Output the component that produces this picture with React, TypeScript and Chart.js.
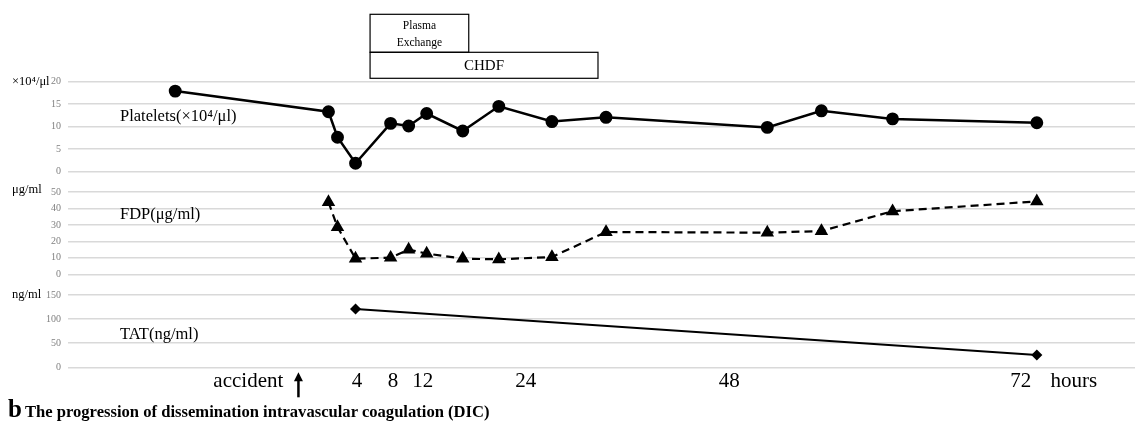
import React, { useEffect, useRef } from 'react';
import { Chart, registerables } from 'chart.js';
Chart.register(...registerables);

const SERIF = "'Liberation Serif', 'DejaVu Serif', serif";

// Hours after the accident
const PLT_HOURS = [-14, 1.3, 2.2, 4, 7.5, 9.3, 11.1, 14.7, 18.3, 23.6, 29, 45.1, 50.5, 57.6, 72];
const PLT_VALUES = [17.9, 13.3, 7.6, 1.8, 10.7, 10.1, 12.9, 9.0, 14.5, 11.1, 12.05, 9.8, 13.5, 11.7, 10.85];

const FDP_HOURS = [1.3, 2.2, 4, 7.5, 9.3, 11.1, 14.7, 18.3, 23.6, 29, 45.1, 50.5, 57.6, 72];
const FDP_VALUES = [43.9, 28.7, 9.5, 10.1, 15.0, 12.6, 9.5, 9.1, 10.5, 25.7, 25.3, 26.3, 38.3, 44.3];

const TAT_HOURS = [4, 72];
const TAT_VALUES = [121, 25.5];

const X_TICK_HOURS = [-6.7, 4.15, 7.75, 10.7, 21, 41.3, 70.4, 75.7];
const X_TICK_LABELS = ['accident', '4', '8', '12', '24', '48', '72', 'hours'];
const ACCIDENT_ARROW_HOUR = -1.7;

const PLASMA_RANGE = [5.45, 15.3];
const CHDF_RANGE = [5.45, 28.2];

const X_MIN = -24.7;
const X_MAX = 81.8;

const toXY = (xs: number[], ys: number[]) => xs.map((x, i) => ({ x, y: ys[i] }));

function makeX(show: boolean) {
  return {
    type: 'linear',
    min: X_MIN,
    max: X_MAX,
    display: show,
    grid: { display: false, drawTicks: false },
    border: { display: false },
    afterBuildTicks: (s: any) => {
      s.ticks = X_TICK_HOURS.map((v) => ({ value: v }));
    },
    afterFit: (s: any) => {
      s.height = show ? 61.7 : 0;
    },
    ticks: {
      autoSkip: false,
      maxRotation: 0,
      minRotation: 0,
      padding: 2,
      color: '#000',
      font: { family: SERIF, size: 21 },
      callback: (_v: any, i: number) => X_TICK_LABELS[i],
    },
  };
}

function makeY(min: number, max: number, step: number) {
  return {
    type: 'linear',
    position: 'left',
    min,
    max,
    ticks: {
      stepSize: step,
      autoSkip: false,
      padding: 7,
      color: '#808080',
      font: { family: SERIF, size: 10 },
    },
    grid: { color: '#d9d9d9', lineWidth: 1.5, drawTicks: false },
    border: { display: false },
    afterFit: (s: any) => {
      s.width = 68;
    },
  };
}

function textPlugin(id: string, draw: (chart: any, ctx: CanvasRenderingContext2D) => void) {
  return {
    id,
    afterDraw(chart: any) {
      const ctx = chart.ctx;
      ctx.save();
      draw(chart, ctx);
      ctx.restore();
    },
  };
}

function baseOptions(padding: any, yScale: any, xShow: boolean) {
  return {
    responsive: true,
    maintainAspectRatio: false,
    animation: false,
    events: [],
    layout: { padding, autoPadding: false },
    plugins: { legend: { display: false }, tooltip: { enabled: false } },
    scales: { x: makeX(xShow), y: yScale },
  };
}

// Panel placement (page pixels); the y-axis labels need 13px above/below the plot area
const EDGE = 13;

export default function App() {
  const r1 = useRef<HTMLCanvasElement>(null);
  const r2 = useRef<HTMLCanvasElement>(null);
  const r3 = useRef<HTMLCanvasElement>(null);

  useEffect(() => {
    const pltChart = new Chart(r1.current as any, {
      type: 'line',
      data: {
        datasets: [
          {
            data: toXY(PLT_HOURS, PLT_VALUES),
            borderColor: '#000',
            backgroundColor: '#000',
            borderWidth: 2.5,
            pointStyle: 'circle',
            pointRadius: 5.2,
            tension: 0,
            clip: false,
          },
        ],
      },
      options: baseOptions({ top: 81.7, bottom: EDGE, left: 0, right: 0 }, makeY(0, 20, 5), false) as any,
      plugins: [
        textPlugin('pltText', (chart, ctx) => {
          const a = chart.chartArea;
          const x = chart.scales.x;
          ctx.fillStyle = '#000';
          ctx.textBaseline = 'middle';
          ctx.textAlign = 'left';
          ctx.font = `12.5px ${SERIF}`;
          ctx.fillText('×10⁴/μl', 12, a.top);
          ctx.font = `16.5px ${SERIF}`;
          ctx.fillText('Platelets(×10⁴/μl)', 120, 117);
          // treatment boxes
          const px0 = x.getPixelForValue(PLASMA_RANGE[0]);
          const px1 = x.getPixelForValue(PLASMA_RANGE[1]);
          const cx0 = x.getPixelForValue(CHDF_RANGE[0]);
          const cx1 = x.getPixelForValue(CHDF_RANGE[1]);
          ctx.strokeStyle = '#000';
          ctx.lineWidth = 1.2;
          ctx.strokeRect(px0, 14.3, px1 - px0, 38);
          ctx.strokeRect(cx0, 52.3, cx1 - cx0, 26);
          ctx.textAlign = 'center';
          ctx.font = `11.5px ${SERIF}`;
          ctx.fillText('Plasma', (px0 + px1) / 2, 26);
          ctx.fillText('Exchange', (px0 + px1) / 2, 42.5);
          ctx.font = `15px ${SERIF}`;
          ctx.fillText('CHDF', (cx0 + cx1) / 2, 65.8);
        }),
      ],
    });

    const fdpChart = new Chart(r2.current as any, {
      type: 'line',
      data: {
        datasets: [
          {
            data: toXY(FDP_HOURS, FDP_VALUES),
            borderColor: '#000',
            backgroundColor: '#000',
            borderWidth: 2.2,
            borderDash: [8, 5],
            pointStyle: 'triangle',
            pointRadius: 5.6,
            tension: 0,
            clip: false,
          },
        ],
      },
      options: baseOptions({ top: EDGE, bottom: EDGE, left: 0, right: 0 }, makeY(0, 50, 10), false) as any,
      plugins: [
        textPlugin('fdpText', (chart, ctx) => {
          const a = chart.chartArea;
          ctx.fillStyle = '#000';
          ctx.textBaseline = 'middle';
          ctx.textAlign = 'left';
          ctx.font = `12.5px ${SERIF}`;
          ctx.fillText('μg/ml', 12, a.top - 2);
          ctx.font = `16.5px ${SERIF}`;
          ctx.fillText('FDP(μg/ml)', 120, a.top + 23);
        }),
      ],
    });

    const tatChart = new Chart(r3.current as any, {
      type: 'line',
      data: {
        datasets: [
          {
            data: toXY(TAT_HOURS, TAT_VALUES),
            borderColor: '#000',
            backgroundColor: '#000',
            borderWidth: 2.2,
            pointStyle: 'rectRot',
            pointRadius: 4,
            tension: 0,
            clip: false,
          },
        ],
      },
      options: baseOptions({ top: EDGE, bottom: 0, left: 0, right: 0 }, makeY(0, 150, 50), true) as any,
      plugins: [
        textPlugin('tatText', (chart, ctx) => {
          const a = chart.chartArea;
          const x = chart.scales.x;
          ctx.fillStyle = '#000';
          ctx.textBaseline = 'middle';
          ctx.textAlign = 'left';
          ctx.font = `12.5px ${SERIF}`;
          ctx.fillText('ng/ml', 12, a.top);
          ctx.font = `16.5px ${SERIF}`;
          ctx.fillText('TAT(ng/ml)', 120, a.top + 40);
          // accident arrow
          const ax = x.getPixelForValue(ACCIDENT_ARROW_HOUR);
          const yTop = a.bottom + 5;
          const yBot = a.bottom + 30;
          ctx.strokeStyle = '#000';
          ctx.lineWidth = 2.5;
          ctx.beginPath();
          ctx.moveTo(ax, yBot);
          ctx.lineTo(ax, yTop + 6);
          ctx.stroke();
          ctx.beginPath();
          ctx.moveTo(ax, yTop);
          ctx.lineTo(ax - 4.5, yTop + 9);
          ctx.lineTo(ax + 4.5, yTop + 9);
          ctx.closePath();
          ctx.fill();
        }),
      ],
    });

    return () => {
      pltChart.destroy();
      fdpChart.destroy();
      tatChart.destroy();
    };
  }, []);

  // plot areas: platelets 81.7–171.3, FDP 191.7–274, TAT 295–367.3
  return (
    <div
      style={{
        position: 'fixed',
        left: 0,
        top: 0,
        width: 1135,
        height: 429,
        background: '#fff',
        overflow: 'hidden',
      }}
    >
      <div style={{ position: 'absolute', left: 0, top: 0, width: 1135, height: 171.3 + EDGE }}>
        <canvas ref={r1} />
      </div>
      <div
        style={{
          position: 'absolute',
          left: 0,
          top: 191.7 - EDGE,
          width: 1135,
          height: 274 - 191.7 + 2 * EDGE,
        }}
      >
        <canvas ref={r2} />
      </div>
      <div style={{ position: 'absolute', left: 0, top: 295 - EDGE, width: 1135, height: 429 - 295 + EDGE }}>
        <canvas ref={r3} />
      </div>
      <div
        style={{
          position: 'absolute',
          left: 8,
          top: 396,
          fontFamily: SERIF,
          fontWeight: 'bold',
          whiteSpace: 'nowrap',
          display: 'flex',
          alignItems: 'baseline',
          lineHeight: 1,
        }}
      >
        <span style={{ fontSize: 25 }}>b</span>
        <span style={{ fontSize: 16.6, marginLeft: 3 }}>
          The progression of dissemination intravascular coagulation (DIC)
        </span>
      </div>
    </div>
  );
}
